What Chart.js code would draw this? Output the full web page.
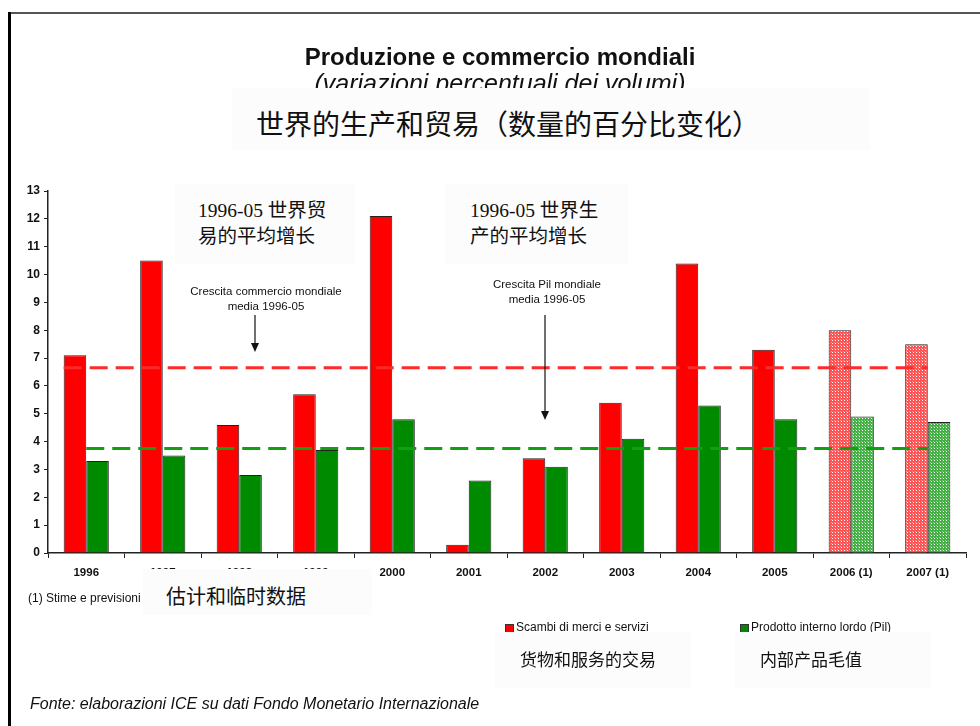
<!DOCTYPE html>
<html>
<head>
<meta charset="utf-8">
<script src="https://cdn.jsdelivr.net/npm/chart.js@4"></script>
<style>
  html, body { margin: 0; padding: 0; background: #fff; }
  #page { position: relative; width: 980px; height: 726px; overflow: hidden; font-family: "Liberation Sans", Arial, sans-serif; }
  #chart { position: absolute; left: 0; top: 0; }
  .abs { position: absolute; white-space: nowrap; }
  .box { position: absolute; background: #fcfcfc; }
  .cn { font-family: "Liberation Serif", "Noto Sans CJK SC", serif; color: #111; }
  .note { font-size: 11.5px; color: #111; text-align: center; line-height: 15px; }
  .sq { position: absolute; width: 7px; height: 7px; border: 1px solid #333; }
</style>
</head>
<body>
<div id="page">
  <canvas id="chart" width="980" height="726"></canvas>

  <!-- frame -->
  <div class="abs" style="left:8px;top:12px;width:972px;height:2px;background:#555"></div>
  <div class="abs" style="left:8px;top:12px;width:3px;height:714px;background:#000"></div>

  <!-- titles -->
  <div class="abs" style="left:0;width:1000px;top:43px;text-align:center;font-weight:bold;font-size:24px;color:#111">Produzione e commercio mondiali</div>
  <div class="abs" style="left:0;width:1000px;top:69px;text-align:center;font-style:italic;font-size:25px;color:#111">(variazioni percentuali dei volumi)</div>
  <div class="box" style="left:232px;top:88px;width:638px;height:62px"></div>
  <div class="abs cn" style="left:256px;top:103px;font-size:28px">世界的生产和贸易（数量的百分比变化）</div>

  <!-- annotations -->
  <div class="box" style="left:175px;top:184px;width:180px;height:80px"></div>
  <div class="abs cn" style="left:198px;top:198px;font-size:19.5px;line-height:26px">1996-05 世界贸<br>易的平均增长</div>
  <div class="box" style="left:445px;top:184px;width:183px;height:80px"></div>
  <div class="abs cn" style="left:470px;top:198px;font-size:19.5px;line-height:26px">1996-05 世界生<br>产的平均增长</div>

  <div class="abs note" style="left:166px;width:200px;top:284px">Crescita commercio mondiale<br>media 1996-05</div>
  <div class="abs note" style="left:447px;width:200px;top:277px">Crescita Pil mondiale<br>media 1996-05</div>
  <svg class="abs" style="left:0;top:0" width="980" height="726">
    <line x1="255" y1="315" x2="255" y2="345" stroke="#111" stroke-width="1.2"/>
    <polygon points="251,343 259,343 255,352" fill="#111"/>
    <line x1="545" y1="315" x2="545" y2="413" stroke="#111" stroke-width="1.2"/>
    <polygon points="541,411 549,411 545,420" fill="#111"/>
  </svg>

  <!-- footnote -->
  <div class="abs" style="left:28px;top:591px;font-size:12px;color:#111">(1) Stime e previsioni</div>
  <div class="box" style="left:143px;top:569px;width:229px;height:46px"></div>
  <div class="abs cn" style="left:166px;top:581px;font-size:20px">估计和临时数据</div>

  <!-- legend -->
  <div class="sq" style="left:505px;top:624px;background:#ff0000"></div>
  <div class="abs" style="left:516px;top:620px;font-size:12px;color:#111">Scambi di merci e servizi</div>
  <div class="sq" style="left:740px;top:624px;background:#008a00"></div>
  <div class="abs" style="left:751px;top:620px;font-size:12px;color:#111">Prodotto interno lordo (Pil)</div>
  <div class="box" style="left:495px;top:632px;width:195px;height:56px"></div>
  <div class="abs cn" style="left:520px;top:646px;font-size:17px">货物和服务的交易</div>
  <div class="box" style="left:735px;top:632px;width:195px;height:56px"></div>
  <div class="abs cn" style="left:760px;top:646px;font-size:17px">内部产品毛值</div>

  <div class="abs" style="left:30px;top:695px;font-size:16px;font-style:italic;color:#111">Fonte: elaborazioni ICE su dati Fondo Monetario Internazionale</div>
</div>

<script>
const years = ["1996", "1997", "1998", "1999", "2000", "2001", "2002", "2003", "2004", "2005", "2006 (1)", "2007 (1)"];
const tradeGrowth = [7.1, 10.5, 4.6, 5.7, 12.1, 0.3, 3.4, 5.4, 10.4, 7.3, 8.0, 7.5];
const gdpGrowth = [3.3, 3.5, 2.8, 3.7, 4.8, 2.6, 3.1, 4.1, 5.3, 4.8, 4.9, 4.7];
const tradeAvg = 6.65;
const gdpAvg = 3.75;
const yTicks = [0, 1, 2, 3, 4, 5, 6, 7, 8, 9, 10, 11, 12, 13];

// estimates are the years marked "(1)"
const isEstimate = years.map(y => y.includes("(1)"));

function dotPattern(base) {
  const c = document.createElement("canvas");
  c.width = 3; c.height = 3;
  const g = c.getContext("2d");
  g.fillStyle = base;
  g.fillRect(0, 0, 3, 3);
  g.fillStyle = "#ffffff";
  g.fillRect(1, 1, 1, 1);
  g.fillStyle = "rgba(255,255,255,0.4)";
  g.fillRect(0, 0, 1, 1);
  return g.createPattern(c, "repeat");
}

const redHatch = dotPattern("#ff5252");
const greenHatch = dotPattern("#43b043");

// dashed averages drawn over the bars, spanning the bar elements
const avgLines = {
  id: "avgLines",
  afterDatasetsDraw(chart) {
    const ctx = chart.ctx;
    const y = chart.scales.y;
    const red = chart.getDatasetMeta(0).data;
    const green = chart.getDatasetMeta(1).data;
    const lines = [
      { v: tradeAvg, color: "#ff2a2a", x0: red[0].x - red[0].width / 2, x1: red[red.length - 1].x + red[red.length - 1].width / 2 },
      { v: gdpAvg, color: "#10a010", x0: green[0].x - green[0].width / 2, x1: green[green.length - 1].x - green[green.length - 1].width / 2 }
    ];
    ctx.save();
    ctx.lineWidth = 3;
    ctx.setLineDash([18, 8]);
    lines.forEach(l => {
      const py = y.getPixelForValue(l.v);
      ctx.strokeStyle = l.color;
      ctx.beginPath();
      ctx.moveTo(l.x0, py);
      ctx.lineTo(l.x1, py);
      ctx.stroke();
    });
    ctx.restore();
  }
};

Chart.defaults.font.family = '"Liberation Sans", Arial, sans-serif';
Chart.defaults.color = "#111";

new Chart(document.getElementById("chart"), {
  type: "bar",
  data: {
    labels: years,
    datasets: [
      {
        label: "Scambi di merci e servizi",
        data: tradeGrowth,
        backgroundColor: ctx => isEstimate[ctx.dataIndex] ? redHatch : "#ff0000",
        borderColor: "#222",
        borderWidth: 1
      },
      {
        label: "Prodotto interno lordo (Pil)",
        data: gdpGrowth,
        backgroundColor: ctx => isEstimate[ctx.dataIndex] ? greenHatch : "#008a00",
        borderColor: "#222",
        borderWidth: 1
      }
    ]
  },
  options: {
    responsive: false,
    animation: false,
    devicePixelRatio: 1,
    categoryPercentage: 0.59,
    barPercentage: 1,
    layout: { padding: { left: 0, top: 191, right: 14, bottom: 143 } },
    plugins: {
      legend: { display: false },
      tooltip: { enabled: false }
    },
    scales: {
      x: {
        afterFit: s => { s.height = 30; },
        grid: { drawOnChartArea: false, drawTicks: true, tickLength: 5, color: "#222" },
        border: { color: "#222", width: 1.5 },
        ticks: { font: { size: 11.5, weight: "bold" }, padding: 8, maxRotation: 0, autoSkip: false }
      },
      y: {
        min: 0,
        max: 13,
        afterFit: s => { s.width = 48; },
        afterBuildTicks: s => { s.ticks = yTicks.map(v => ({ value: v })); },
        grid: { drawOnChartArea: false, drawTicks: true, tickLength: 4, color: "#222" },
        border: { color: "#222", width: 1.5 },
        ticks: { font: { size: 12, weight: "bold" }, padding: 4 }
      }
    }
  },
  plugins: [avgLines]
});
</script>
</body>
</html>
